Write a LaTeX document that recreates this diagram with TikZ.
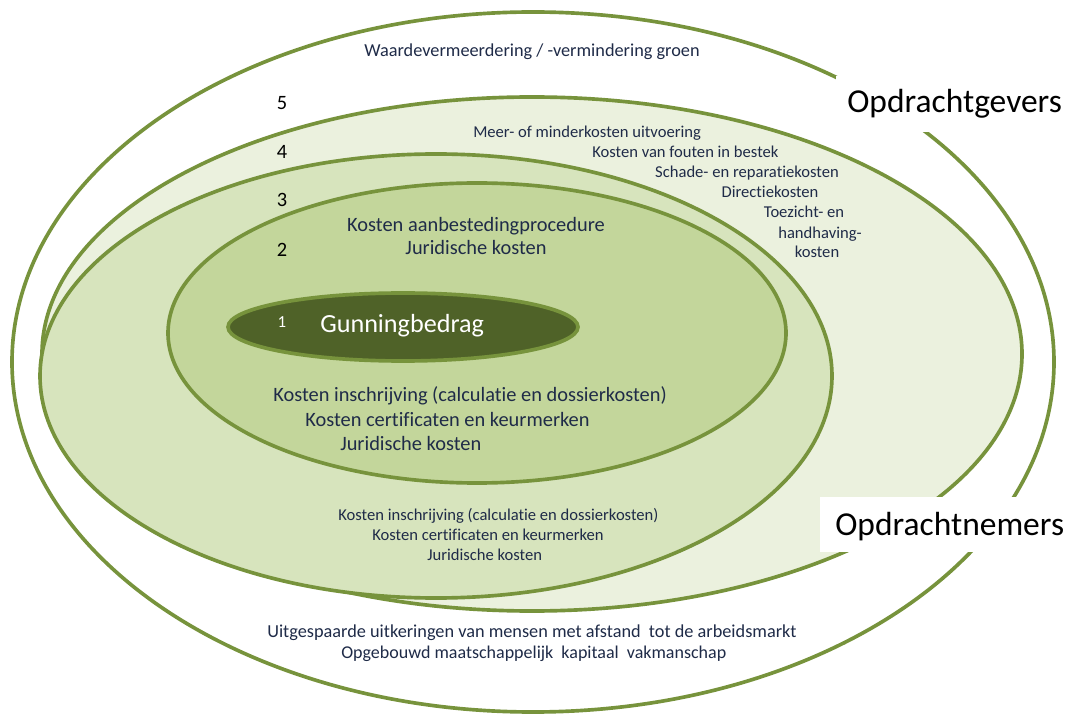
\documentclass[tikz,border=0pt]{standalone}
\usepackage{fontspec}
\setmainfont{Carlito}[Ligatures={NoCommon}]

\definecolor{rand}{HTML}{77933C}
\definecolor{vulA}{HTML}{EBF1DE}
\definecolor{vulB}{HTML}{D7E4BD}
\definecolor{vulC}{HTML}{C3D69B}
\definecolor{kern}{HTML}{4F6228}
\definecolor{tekst}{HTML}{1F2B48}

\begin{document}
\begin{tikzpicture}[x=0.025cm, y=-0.025cm,
    ring/.style={draw=rand, line width=2.6pt},
    klein/.style={text=tekst, inner sep=0pt, font=\fontsize{11.8}{14}\selectfont},
    middel/.style={text=tekst, inner sep=0pt, font=\fontsize{14.5}{17}\selectfont},
    nummer/.style={inner sep=0pt, font=\fontsize{14.5}{17}\selectfont},
    partij/.style={inner sep=0pt, font=\fontsize{23.8}{28}\selectfont}]
    \useasboundingbox (0,0) rectangle (1073,715);

    % Ringen
    \filldraw[ring, fill=white] (533,362) ellipse [x radius=521, y radius=350];
    \filldraw[ring, fill=vulA] (532,354) ellipse [x radius=490, y radius=257];
    \filldraw[ring, fill=vulB] (436,376) ellipse [x radius=396, y radius=222];
    \filldraw[ring, fill=vulC] (477,333) ellipse [x radius=309, y radius=150];
    \filldraw[ring, fill=kern] (403,327) ellipse [x radius=175, y radius=34];

    % Nummers
    \node[nummer, anchor=base] (n5) at (282,110) {5};
    \node[nummer, anchor=base] (n4) at (282,159) {4};
    \node[nummer, anchor=base] (n3) at (282,207) {3};
    \node[nummer, anchor=base] (n2) at (282,257) {2};
    \node[nummer, anchor=base, text=white, font=\fontsize{12}{14}\selectfont] (n1) at (282,328) {1};

    % Kern
    \node[anchor=base west, inner sep=0pt, text=white, font=\fontsize{18.6}{22}\selectfont] (gunning) at (320,333) {Gunningbedrag};

    % Buitenste ring
    \node[klein, anchor=base, font=\fontsize{13}{15}\selectfont] (groen) at (532,57) {Waardevermeerdering / -vermindering groen};
    \node[klein, anchor=base west, font=\fontsize{13}{15}\selectfont] (uitk) at (267,637) {Uitgespaarde uitkeringen van mensen met afstand\ \ tot de arbeidsmarkt};
    \node[klein, anchor=base west, font=\fontsize{12.8}{15}\selectfont] (kapitaal) at (341,658) {Opgebouwd maatschappelijk\ \ kapitaal\ \ vakmanschap};

    % Ring 5
    \node[klein, anchor=base west] (meer) at (473,138) {Meer- of minderkosten uitvoering};
    \node[klein, anchor=base west] (fouten) at (592,158) {Kosten van fouten in bestek};
    \node[klein, anchor=base] (schade) at (747,178) {Schade- en reparatiekosten};
    \node[klein, anchor=base] (directie) at (770,198) {Directiekosten};
    \node[klein, anchor=base] (toezicht) at (804,218) {Toezicht- en};
    \node[klein, anchor=base] (handhaving) at (820,239) {handhaving-};
    \node[klein, anchor=base] (hkosten) at (817,258) {kosten};

    % Ring 3
    \node[middel, anchor=base] (aanbest) at (476,232) {Kosten aanbestedingprocedure};
    \node[middel, anchor=base] (jurA) at (476,255) {Juridische kosten};
    \node[middel, anchor=base west] (inschrA) at (273,401) {Kosten inschrijving (calculatie en dossierkosten)};
    \node[middel, anchor=base west] (certA) at (305,426) {Kosten certificaten en keurmerken};
    \node[middel, anchor=base west] (jurB) at (340,450) {Juridische kosten};

    % Ring 4
    \node[klein, anchor=base west] (inschrB) at (338,520) {Kosten inschrijving (calculatie en dossierkosten)};
    \node[klein, anchor=base west] (certB) at (372,540) {Kosten certificaten en keurmerken};
    \node[klein, anchor=base west] (jurC) at (427,560) {Juridische kosten};

    % Partijen
    \fill[white] (836,76) rectangle (1073,132);
    \node[partij, anchor=base west] (gevers) at (847,113) {Opdrachtgevers};
    \fill[white] (820,497) rectangle (1073,552);
    \node[partij, anchor=base west] (nemers) at (835,535) {Opdrachtnemers};
\end{tikzpicture}
\end{document}
